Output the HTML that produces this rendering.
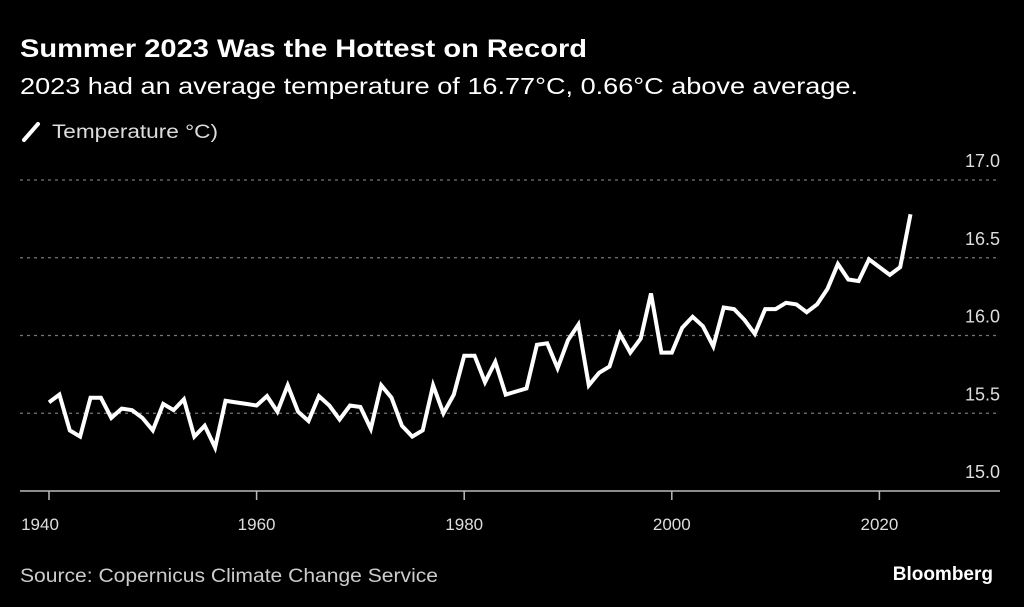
<!DOCTYPE html>
<html><head><meta charset="utf-8"><style>
body{margin:0;background:#000;width:1024px;height:607px;overflow:hidden;font-family:"Liberation Sans",sans-serif;color:#fff}
</style></head><body>
<svg width="1024" height="607" style="position:absolute;left:0;top:0">
<text x="20" y="57" font-size="25" font-weight="bold" fill="#fff" textLength="567" lengthAdjust="spacingAndGlyphs">Summer 2023 Was the Hottest on Record</text>
<text x="20" y="94" font-size="23" fill="#fff" textLength="838" lengthAdjust="spacingAndGlyphs">2023 had an average temperature of 16.77°C, 0.66°C above average.</text>
<line x1="24" y1="140" x2="38" y2="124" stroke="#fff" stroke-width="4" stroke-linecap="round"/>
<text x="52" y="138" font-size="19" fill="#ddd" textLength="166" lengthAdjust="spacingAndGlyphs">Temperature °C)</text>
<g id="grid"></g>
<g id="xaxis"></g>
<path id="line" fill="none" stroke="#fff" stroke-width="4" stroke-linejoin="miter"/>
<text x="20" y="582" font-size="19" fill="#ccc" textLength="418" lengthAdjust="spacingAndGlyphs">Source: Copernicus Climate Change Service</text>
<text x="993" y="580" font-size="19" font-weight="bold" fill="#fff" text-anchor="end">Bloomberg</text>
</svg>
<script>
const years=[];for(let y=1940;y<=2023;y++)years.push(y);
const temps=[15.57,15.62,15.39,15.35,15.60,15.60,15.47,15.53,15.52,15.47,15.39,15.56,15.52,15.59,15.35,15.42,15.28,15.58,15.57,15.56,15.55,15.61,15.51,15.68,15.51,15.45,15.61,15.55,15.46,15.55,15.54,15.40,15.68,15.60,15.42,15.35,15.39,15.68,15.50,15.62,15.87,15.87,15.70,15.83,15.62,15.64,15.66,15.94,15.95,15.79,15.97,16.07,15.68,15.76,15.80,16.01,15.89,15.98,16.27,15.89,15.89,16.05,16.12,16.06,15.93,16.18,16.17,16.10,16.01,16.17,16.17,16.21,16.20,16.15,16.20,16.30,16.46,16.36,16.35,16.49,16.44,16.39,16.44,16.78];
const yTicks=[15.0,15.5,16.0,16.5,17.0];
const xTicks=[1940,1960,1980,2000,2020];
const X=y=>49+(y-1940)*10.38;
const Y=v=>491-(v-15)*155.5;
const NS="http://www.w3.org/2000/svg";
const grid=document.getElementById('grid');
yTicks.forEach(t=>{
  if(t>15){
    const l=document.createElementNS(NS,'line');
    l.setAttribute('x1',20);l.setAttribute('x2',1000);l.setAttribute('y1',Y(t));l.setAttribute('y2',Y(t));
    l.setAttribute('stroke','#777');l.setAttribute('stroke-dasharray','3,4');l.setAttribute('stroke-width','1.2');
    
    
    grid.appendChild(l);
  }
  const tx=document.createElementNS(NS,'text');
  tx.setAttribute('x',1000);tx.setAttribute('y',Y(t)-13);tx.setAttribute('text-anchor','end');
  tx.setAttribute('font-size','18');tx.setAttribute('fill','#ddd');tx.textContent=t.toFixed(1);
  
  
  grid.appendChild(tx);
});
const xa=document.getElementById('xaxis');
const base=document.createElementNS(NS,'line');
base.setAttribute('x1',20);base.setAttribute('x2',1000);base.setAttribute('y1',491);base.setAttribute('y2',491);
base.setAttribute('stroke','#bbb');base.setAttribute('stroke-width','1.5');


xa.appendChild(base);
xTicks.forEach(t=>{
  const l=document.createElementNS(NS,'line');
  l.setAttribute('x1',X(t));l.setAttribute('x2',X(t));l.setAttribute('y1',491);l.setAttribute('y2',500);
  l.setAttribute('stroke','#bbb');l.setAttribute('stroke-width','1.5');
  
  
  xa.appendChild(l);
  const tx=document.createElementNS(NS,'text');
  tx.setAttribute('x',X(t)-(t===1940?9:0));tx.setAttribute('y',530);tx.setAttribute('text-anchor','middle');
  tx.setAttribute('font-size','17');tx.setAttribute('fill','#ddd');tx.textContent=t;
  
  
  xa.appendChild(tx);
});
document.getElementById('line').setAttribute('d',temps.map((v,i)=>(i?'L':'M')+X(years[i]).toFixed(1)+','+Y(v).toFixed(1)).join(''));
</script>
</body></html>
